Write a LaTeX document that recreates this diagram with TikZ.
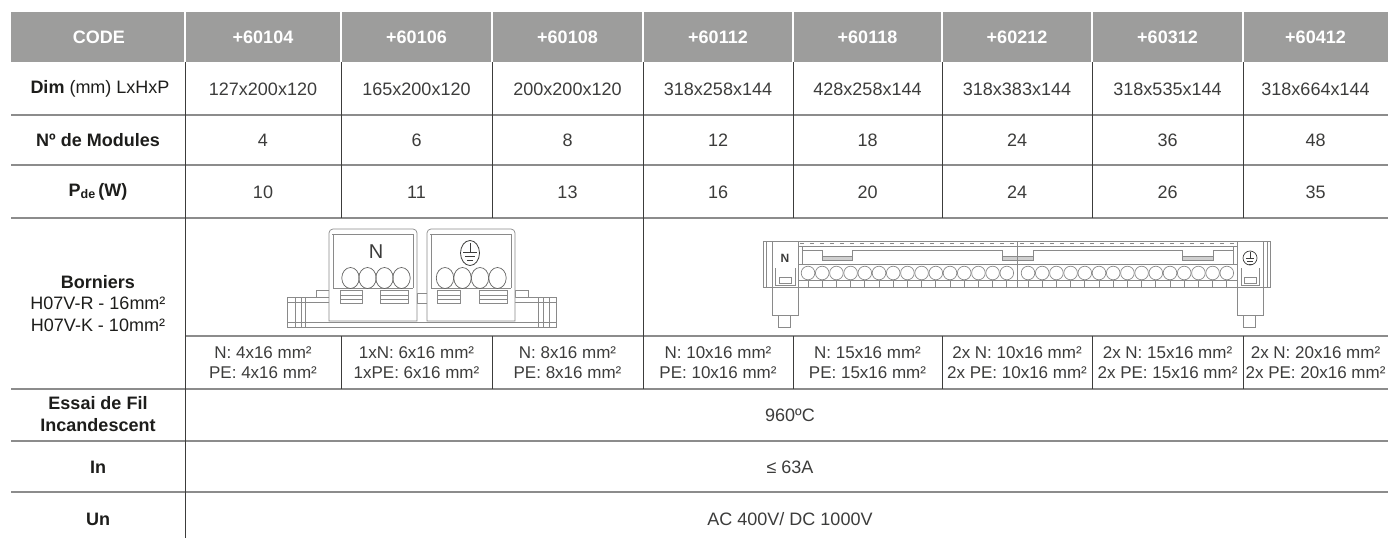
\documentclass[tikz,border=0pt]{standalone}
\usepackage{fontspec}
\setmainfont{Liberation Sans}
\definecolor{headgray}{HTML}{9D9D9C}
\definecolor{textgray}{HTML}{3C3C3B}
\definecolor{labelblack}{HTML}{1D1D1B}
\definecolor{rulegray}{HTML}{8C8C8C}
\definecolor{sepgray}{HTML}{3C3C3B}
\definecolor{partgray}{HTML}{8A8A8A}
\begin{document}
\begin{tikzpicture}[x=1pt,y=-1pt,
    every node/.style={inner sep=0pt, text=textgray, font=\fontsize{18}{21.5}\selectfont},
    head/.style={text=white, font=\fontsize{18}{21.5}\selectfont\bfseries},
    lab/.style={text=labelblack, font=\fontsize{18}{21.5}\selectfont\bfseries, align=center},
    small/.style={font=\fontsize{17}{20}\selectfont, align=center},
    hrule/.style={draw=rulegray, line width=1.3pt},
    vrule/.style={draw=sepgray, line width=0.9pt},
    part/.style={draw=partgray, line width=0.7pt, fill=white},
    partline/.style={draw=partgray, line width=0.7pt}]
      \useasboundingbox (0,0) rectangle (1388,538);
      % header band
      \fill [headgray] (11,12) rectangle (1388,62);
      \draw [white, line width=1.5pt] (185,12) -- (185,62);
      \draw [white, line width=1.5pt] (341,12) -- (341,62);
      \draw [white, line width=1.5pt] (492,12) -- (492,62);
      \draw [white, line width=1.5pt] (643,12) -- (643,62);
      \draw [white, line width=1.5pt] (793,12) -- (793,62);
      \draw [white, line width=1.5pt] (942,12) -- (942,62);
      \draw [white, line width=1.5pt] (1092,12) -- (1092,62);
      \draw [white, line width=1.5pt] (1243,12) -- (1243,62);
      \node [head] (hcode) at (99,37) {CODE};
      \node [head] (h60104) at (263,37) {+60104};
      \node [head] (h60106) at (416.5,37) {+60106};
      \node [head] (h60108) at (567.5,37) {+60108};
      \node [head] (h60112) at (718,37) {+60112};
      \node [head] (h60118) at (867.5,37) {+60118};
      \node [head] (h60212) at (1017,37) {+60212};
      \node [head] (h60312) at (1167.5,37) {+60312};
      \node [head] (h60412) at (1315.5,37) {+60412};
      % horizontal rules
      \draw [hrule] (11,115) -- (1388,115);
      \draw [hrule] (11,165) -- (1388,165);
      \draw [hrule] (11,218) -- (1388,218);
      \draw [hrule] (185,336) -- (1388,336);
      \draw [hrule] (11,389) -- (1388,389);
      \draw [hrule] (11,441) -- (1388,441);
      \draw [hrule] (11,492) -- (1388,492);
      % vertical rules
      \draw [vrule] (185,62) -- (185,538);
      \draw [vrule] (341,62) -- (341,218);
      \draw [vrule] (341,336) -- (341,389);
      \draw [vrule] (492,62) -- (492,218);
      \draw [vrule] (492,336) -- (492,389);
      \draw [vrule] (643,62) -- (643,389);
      \draw [vrule] (793,62) -- (793,218);
      \draw [vrule] (793,336) -- (793,389);
      \draw [vrule] (942,62) -- (942,218);
      \draw [vrule] (942,336) -- (942,389);
      \draw [vrule] (1092,62) -- (1092,218);
      \draw [vrule] (1092,336) -- (1092,389);
      \draw [vrule] (1243,62) -- (1243,218);
      \draw [vrule] (1243,336) -- (1243,389);
      % Dim row
      \node [lab] (ldim) at (100,89) {Dim \mdseries(mm) LxHxP};
      \node (d60104) at (263,89) {127x200x120};
      \node (d60106) at (416.5,89) {165x200x120};
      \node (d60108) at (567.5,89) {200x200x120};
      \node (d60112) at (718,89) {318x258x144};
      \node (d60118) at (867.5,89) {428x258x144};
      \node (d60212) at (1017,89) {318x383x144};
      \node (d60312) at (1167.5,89) {318x535x144};
      \node (d60412) at (1315.5,89) {318x664x144};
      % modules row
      \node [lab] (lmod) at (98,140.5) {Nº de Modules};
      \node (m60104) at (263,140.5) {4};
      \node (m60106) at (416.5,140.5) {6};
      \node (m60108) at (567.5,140.5) {8};
      \node (m60112) at (718,140.5) {12};
      \node (m60118) at (867.5,140.5) {18};
      \node (m60212) at (1017,140.5) {24};
      \node (m60312) at (1167.5,140.5) {36};
      \node (m60412) at (1315.5,140.5) {48};
      % power row
      \node [lab] (lpde) at (98,192) {P\raisebox{-1.5pt}{\fontsize{12.5}{12.5}\selectfont de}\,(W)};
      \node (p60104) at (263,192) {10};
      \node (p60106) at (416.5,192) {11};
      \node (p60108) at (567.5,192) {13};
      \node (p60112) at (718,192) {16};
      \node (p60118) at (867.5,192) {20};
      \node (p60212) at (1017,192) {24};
      \node (p60312) at (1167.5,192) {26};
      \node (p60412) at (1315.5,192) {35};
      % borniers
      \node [lab] (lborn) at (98,303.5) {Borniers\\\mdseries H07V-R - 16mm²\\\mdseries H07V-K - 10mm²};
      \node [small] (b60104) at (263,363) {N: 4x16 mm²\\PE: 4x16 mm²};
      \node [small] (b60106) at (416.5,363) {1xN: 6x16 mm²\\1xPE: 6x16 mm²};
      \node [small] (b60108) at (567.5,363) {N: 8x16 mm²\\PE: 8x16 mm²};
      \node [small] (b60112) at (718,363) {N: 10x16 mm²\\PE: 10x16 mm²};
      \node [small] (b60118) at (867.5,363) {N: 15x16 mm²\\PE: 15x16 mm²};
      \node [small] (b60212) at (1017,363) {2x N: 10x16 mm²\\2x PE: 10x16 mm²};
      \node [small] (b60312) at (1167.5,363) {2x N: 15x16 mm²\\2x PE: 15x16 mm²};
      \node [small] (b60412) at (1315.5,363) {2x N: 20x16 mm²\\2x PE: 20x16 mm²};
      % merged rows
      \node [lab] (lessai) at (98,414) {Essai de Fil\\Incandescent};
      \node (vessai) at (790,415) {960ºC};
      \node [lab] (lin) at (98,467) {In};
      \node (vin) at (790,467) {≤ 63A};
      \node [lab] (lun) at (98,519) {Un};
      \node (vun) at (790,519) {AC 400V/ DC 1000V};
      % small terminal block: rail
      \draw [part] (287,297) rectangle (556,327);
      \draw [partline] (287,302) -- (556,302);
      \draw [partline] (287,322) -- (556,322);
      \draw [partline] (295,297) -- (295,327);
      \draw [partline] (301,297) -- (301,327);
      \draw [partline] (305,297) -- (305,327);
      \draw [partline] (538,297) -- (538,327);
      \draw [partline] (543,297) -- (543,327);
      \draw [partline] (549,297) -- (549,327);
      \draw [part] (316,290) rectangle (329,297);
      \draw [part] (515,290) rectangle (528,297);
      \draw [part] (417,293) rectangle (427,303);
      % N block
      \draw [part] (329,321) [rounded corners=4pt]-- (329,229) -- (417,229) [sharp corners]-- (417,321) -- cycle;
      \draw [partline] (332,234) -- (414,234);
      \draw [partline] (333,234) -- (333,288);
      \draw [partline] (413,234) -- (413,288);
      \draw [partline] (333,288) -- (413,288);
      \node [font=\fontsize{20}{20}\selectfont, text=textgray] (nleft) at (376,252) {N};
      \draw [partline, draw=textgray!80] (350.5,278) ellipse (8.7 and 10.5);
      \draw [partline, draw=textgray!80] (367.5,278) ellipse (8.7 and 10.5);
      \draw [partline, draw=textgray!80] (384.5,278) ellipse (8.7 and 10.5);
      \draw [partline, draw=textgray!80] (401.5,278) ellipse (8.7 and 10.5);
      \draw [part] (340,290) rectangle (362,303);
      \draw [partline] (340,295) -- (362,295);
      \draw [partline] (340,299) -- (362,299);
      \draw [part] (380,290) rectangle (408,303);
      \draw [partline] (380,295) -- (408,295);
      \draw [partline] (380,299) -- (408,299);
      % PE block
      \draw [part] (427,321) [rounded corners=4pt]-- (427,229) -- (515,229) [sharp corners]-- (515,321) -- cycle;
      \draw [partline] (430,234) -- (512,234);
      \draw [partline] (431,234) -- (431,288);
      \draw [partline] (511,234) -- (511,288);
      \draw [partline] (431,288) -- (511,288);
      \draw [textgray, line width=0.8pt] (470,253) ellipse (9.5 and 12.5);
      \draw [textgray, line width=0.8pt] (470,243) -- (470,252);
      \draw [textgray, line width=0.8pt] (463,252) -- (477,252);
      \draw [textgray, line width=0.8pt] (465,256) -- (475,256);
      \draw [textgray, line width=0.8pt] (467,260) -- (473,260);
      \draw [partline, draw=textgray!80] (445,278) ellipse (8.7 and 10.5);
      \draw [partline, draw=textgray!80] (462.5,278) ellipse (8.7 and 10.5);
      \draw [partline, draw=textgray!80] (480,278) ellipse (8.7 and 10.5);
      \draw [partline, draw=textgray!80] (497.5,278) ellipse (8.7 and 10.5);
      \draw [part] (437,290) rectangle (460,303);
      \draw [partline] (437,295) -- (460,295);
      \draw [partline] (437,299) -- (460,299);
      \draw [part] (479,290) rectangle (507,303);
      \draw [partline] (479,295) -- (507,295);
      \draw [partline] (479,299) -- (507,299);
      % long terminal bar: end pieces
      \draw [part] (772,287) rectangle (798,315);
      \draw [part] (778,315) rectangle (790,327);
      \draw [part] (1237,287) rectangle (1263,315);
      \draw [part] (1243,315) rectangle (1255,327);
      \draw [part] (763,241) rectangle (1270,287);
      \draw [partline] (766,241) -- (766,287);
      \draw [partline] (1267,241) -- (1267,287);
      \draw [partline] (772,241) -- (772,287);
      \draw [partline] (798,241) -- (798,287);
      \draw [partline] (1237,241) -- (1237,287);
      \draw [partline] (1263,241) -- (1263,287);
      \node [font=\fontsize{12}{12}\selectfont\bfseries, text=textgray] (nright) at (785,258) {N};
      \draw [partline] (775,268) -- (775,285) -- (795,285) -- (795,268);
      \draw [partline] (779,277) rectangle (791,283);
      \draw [partline] (1241,268) -- (1241,285) -- (1259,285) -- (1259,268);
      \draw [partline] (1244,277) rectangle (1256,283);
      \draw [textgray, line width=0.7pt] (1250,258) circle (7);
      \draw [textgray, line width=0.7pt] (1250,252) -- (1250,258);
      \draw [textgray, line width=0.7pt] (1246,258) -- (1254,258);
      \draw [textgray, line width=0.7pt] (1247,261) -- (1253,261);
      \draw [textgray, line width=0.7pt] (1248.5,264) -- (1251.5,264);
      % cover and clamp bars
      \draw [partline, dash pattern=on 4pt off 6pt] (800,243) -- (1235,243);
      \draw [partline] (798,246) -- (1237,246);
      \draw [partline] (802,246) -- (802,264);
      \draw [partline] (1233,246) -- (1233,264);
      \draw [partline] (798,264) -- (1237,264);
      \draw [partline] (802,250) -- (822,250) -- (822,256) -- (852,256) -- (852,250) -- (1002,250) -- (1002,256) -- (1033,256) -- (1033,250) -- (1182,250) -- (1182,256) -- (1213,256) -- (1213,250) -- (1233,250);
      \draw [partline, fill=partgray!40] (822,256) rectangle (852,260);
      \draw [partline, fill=partgray!40] (1002,256) rectangle (1033,260);
      \draw [partline, fill=partgray!40] (1182,256) rectangle (1213,260);
      \draw [partline] (1017,241) -- (1017,287);
      % screw row
      \draw [partline] (798,280) -- (1237,280);
      \foreach \i in {0,...,14} {
        \draw [partline] (808+14.2*\i,273) circle (6.8);
        \draw [partline] (808+14.2*\i,280) -- (808+14.2*\i,287);
        \draw [partline] (1028+14.2*\i,273) circle (6.8);
        \draw [partline] (1028+14.2*\i,280) -- (1028+14.2*\i,287);
      }
\end{tikzpicture}
\end{document}
